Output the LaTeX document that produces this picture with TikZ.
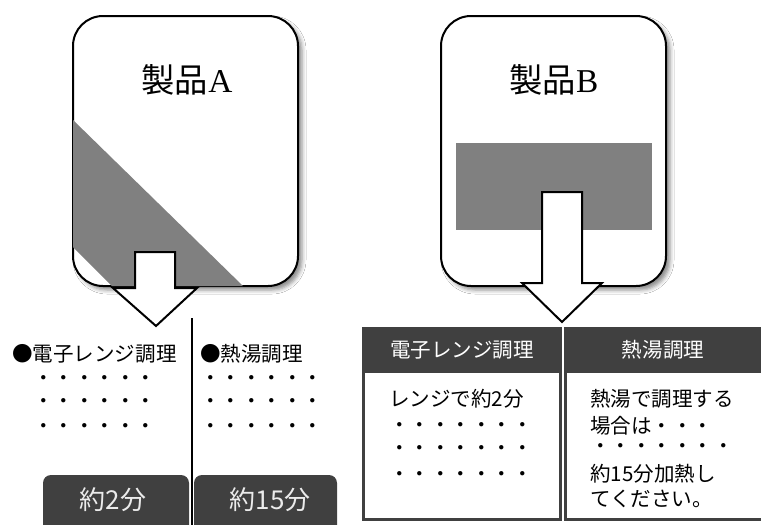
\documentclass[tikz,border=0pt]{standalone}
\usepackage{fontspec}
\newfontfamily\jp{Noto Sans CJK JP}
\newfontfamily\lat{Liberation Serif}
\usetikzlibrary{shadows.blur}
\definecolor{dk}{HTML}{404040}
\definecolor{mid}{HTML}{808080}
\newcommand\bodyfont{\jp\fontsize{15.4pt}{18pt}\selectfont}
\newcommand\titlefont{\jp\fontsize{25pt}{30pt}\selectfont}
\newcommand\bigfont{\jp\fontsize{19.5pt}{24pt}\selectfont}
\begin{document}
\begin{tikzpicture}[x=0.75pt,y=-0.75pt,
  prodbox/.style={draw=black, line width=1.5pt, fill=white, rounded corners=22.5pt,
    minimum width=168.75pt, minimum height=202.5pt, inner sep=0pt,
    blur shadow={shadow xshift=3pt, shadow yshift=-3pt, shadow blur radius=3pt, shadow opacity=45}},
  titletext/.style={inner sep=0pt, font=\titlefont},
  blockarrow/.style={draw=black, line width=1.5pt, fill=white, line join=miter},
  grayfill/.style={fill=mid, draw=none},
  lbl/.style={inner sep=0pt, anchor=base west, font=\bodyfont},
  darkbox/.style={fill=dk, draw=none, rounded corners=6pt},
  darktext/.style={inner sep=0pt, font=\bigfont, text=white!92!black},
  tableframe/.style={draw=dk, line width=2.25pt},
  hdrtext/.style={inner sep=0pt, font=\bodyfont, text=white},
  divider/.style={draw=black, line width=1.5pt}]
\clip (0,0) rectangle (761,525);
\fill[white] (0,0) rectangle (761,525);

% ---------- Product A ----------
\node[prodbox] (boxA) at (185.5,151) {};
\path[grayfill] (73,120) -- (243,286) -- (112,286) -- (73,247) -- cycle;
\node[titletext] (titleA) at (187,80) {製品{\lat A}};
\draw[blockarrow] (135,252) -- (175,252) -- (175,288) -- (197,288) -- (156,326) -- (113,288) -- (135,288) -- cycle;
\coordinate (lineTop) at (192,318);
\coordinate (lineBot) at (192,530);

% ---------- Product B ----------
\node[prodbox] (boxB) at (553.5,151) {};
\path[grayfill] (456,143) rectangle (652,230);
\node[titletext] (titleB) at (554,80) {製品{\lat B}};
\draw[blockarrow] (542,192) -- (582,192) -- (582,283) -- (602,283) -- (562,322) -- (522,283) -- (542,283) -- cycle;

% ---------- Left lower (A) ----------
\draw[divider] (lineTop) -- (lineBot);
\node[lbl] (aMw) at (12,361) {●電子レンジ調理};
\node[lbl] (aMd1) at (33,385) {・・・・・・};
\node[lbl] (aMd2) at (33,408) {・・・・・・};
\node[lbl] (aMd3) at (33,433) {・・・・・・};
\node[lbl] (aHw) at (200,361) {●熱湯調理};
\node[lbl] (aHd1) at (200,385) {・・・・・・};
\node[lbl] (aHd2) at (200,408) {・・・・・・};
\node[lbl] (aHd3) at (200,433) {・・・・・・};

\path[darkbox] (43,475) rectangle (189,545);
\path[darkbox] (194,475) rectangle (337,545);
\node[darktext] (tA1) at (113,500) {約2分};
\node[darktext] (tA2) at (270,500) {約15分};

% ---------- Right lower (B) tables ----------
\fill[dk] (363,328) rectangle (560,373);
\draw[tableframe] (363,328) rectangle (560,519);
\fill[dk] (565,328) rectangle (775,373);
\draw[tableframe] (565,328) rectangle (775,519);
\node[hdrtext] (hM) at (462,350) {電子レンジ調理};
\node[hdrtext] (hH) at (663,350) {熱湯調理};

\node[lbl] (bM1) at (389,406) {レンジで約2分};
\node[lbl] (bM2) at (389,432) {・・・・・・・};
\node[lbl] (bM3) at (389,455) {・・・・・・・};
\node[lbl] (bM4) at (389,481) {・・・・・・・};

\node[lbl] (bH1) at (590,406) {熱湯で調理する};
\node[lbl] (bH2) at (590,433) {場合は・・・};
\node[lbl] (bH3) at (590,453) {・・・・・・・};
\node[lbl] (bH4) at (590,481) {約15分加熱し};
\node[lbl] (bH5) at (590,506) {てください。};
\end{tikzpicture}
\end{document}
